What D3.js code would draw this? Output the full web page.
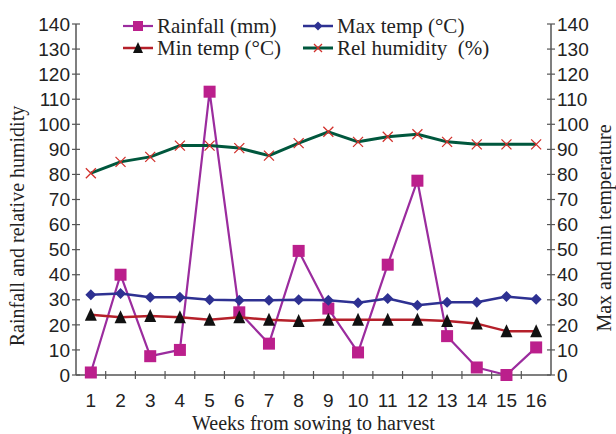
<!DOCTYPE html>
<html>
<head>
<meta charset="utf-8">
<script src="https://cdn.jsdelivr.net/npm/d3@7"></script>
<style>
  body { margin: 0; background: #fff; }
  svg { display: block; }
</style>
</head>
<body>
<svg id="drawing_region"></svg>
<script>
// data
const weeks = [1, 2, 3, 4, 5, 6, 7, 8, 9, 10, 11, 12, 13, 14, 15, 16];
const rainfall = [1, 40, 7.5, 10, 113, 25, 12.5, 49.5, 26.5, 9, 44, 77.5, 15.5, 3, 0, 11];
const maxTemp = [32, 32.5, 31, 31, 30, 29.8, 29.8, 30, 29.8, 28.8, 30.5, 27.8, 29, 29, 31.3, 30.2];
const minTemp = [24, 23, 23.5, 23, 22, 23, 22, 21.5, 22, 22, 22, 22, 21.5, 20.5, 17.5, 17.5];
const relHumidity = [80.5, 85, 87, 91.5, 91.5, 90.5, 87.5, 92.5, 97, 93, 95, 96, 93, 92, 92, 92];
const yTicks = [0, 10, 20, 30, 40, 50, 60, 70, 80, 90, 100, 110, 120, 130, 140];

const config = {
    width: 616,
    height: 434,
    margin: {top: 24, right: 65, bottom: 59, left: 76}
};

const svg = d3.select('#drawing_region')
    .attr('width', config.width)
    .attr('height', config.height);

const inner_width = config.width - config.margin.left - config.margin.right;
const inner_height = config.height - config.margin.top - config.margin.bottom;

const chart = svg.append('g')
    .attr('transform', `translate(${config.margin.left}, ${config.margin.top})`);

const xscale = d3.scaleBand()
    .domain(weeks)
    .range([0, inner_width]);

const yscale = d3.scaleLinear()
    .domain([0, 140])
    .range([inner_height, 0]);

// right axis uses the same 0-140 range
const yscale2 = d3.scaleLinear()
    .domain([0, 140])
    .range([inner_height, 0]);

const cx = d => xscale(d) + xscale.bandwidth() / 2;
const axisColor = '#555';
const SERIF = '"Liberation Serif"';
const SANS = '"Liberation Sans"';

// axes
const xaxis_group = chart.append('g')
    .attr('transform', `translate(0, ${inner_height})`);
xaxis_group.append('line')
    .attr('x1', 0).attr('x2', inner_width)
    .attr('stroke', axisColor).attr('stroke-width', 1.5);
xaxis_group.selectAll('.xt')
    .data(d3.range(1, weeks.length))
    .enter().append('line')
    .attr('x1', i => i * xscale.step())
    .attr('x2', i => i * xscale.step())
    .attr('y1', -4).attr('y2', 4)
    .attr('stroke', axisColor).attr('stroke-width', 1.2);
xaxis_group.selectAll('text')
    .data(weeks)
    .enter().append('text')
    .style('font-family', SANS)
    .style('font-size', '19px')
    .attr('x', d => cx(d))
    .attr('y', 32)
    .attr('text-anchor', 'middle')
    .attr('fill', '#222')
    .text(d => d);

function drawYAxis(scale, x, anchor, dx) {
    const g = chart.append('g').attr('transform', `translate(${x}, 0)`);
    g.append('line')
        .attr('y1', 0).attr('y2', inner_height)
        .attr('stroke', axisColor).attr('stroke-width', 1.5);
    g.selectAll('line.tk')
        .data(yTicks)
        .enter().append('line')
        .attr('class', 'tk')
        .attr('x1', -4).attr('x2', 4)
        .attr('y1', d => scale(d)).attr('y2', d => scale(d))
        .attr('stroke', axisColor).attr('stroke-width', 1.2);
    g.selectAll('text')
        .data(yTicks)
        .enter().append('text')
        .style('font-family', SANS)
        .style('font-size', '19px')
        .attr('x', dx)
        .attr('y', d => scale(d))
        .attr('dy', '0.35em')
        .attr('text-anchor', anchor)
        .attr('fill', '#222')
        .text(d => d);
}
drawYAxis(yscale, 0, 'end', -6);
drawYAxis(yscale2, inner_width, 'start', 6);

// axis titles
svg.append('text')
    .style('font-family', SERIF)
    .style('font-size', '20px')
    .attr('x', config.margin.left + inner_width / 2)
    .attr('y', 430)
    .attr('text-anchor', 'middle')
    .attr('fill', '#222')
    .text('Weeks from sowing to harvest');

svg.append('text')
    .style('font-family', SERIF)
    .style('font-size', '20px')
    .attr('transform', 'translate(24, 226) rotate(-90)')
    .attr('text-anchor', 'middle')
    .attr('fill', '#222')
    .text('Rainfall and relative humidity');

svg.append('text')
    .style('font-family', SERIF)
    .style('font-size', '20px')
    .attr('transform', 'translate(611, 228) rotate(-90)')
    .attr('text-anchor', 'middle')
    .attr('fill', '#222')
    .text('Max and min temperature');

// series
const series = [
    {name: 'Rainfall (mm)', values: rainfall, scale: yscale, line: '#9b2c9e', width: 2.2,
     marker: 'square', mfill: '#bb1f8c', size: 12},
    {name: 'Max temp (\u00B0C)', values: maxTemp, scale: yscale2, line: '#2e3192', width: 2.5,
     marker: 'diamond', mfill: '#2e3192', size: 11},
    {name: 'Min temp (\u00B0C)', values: minTemp, scale: yscale2, line: '#b5202a', width: 2.5,
     marker: 'triangle', mfill: '#111', size: 12},
    {name: 'Rel humidity\u00A0 (%)', values: relHumidity, scale: yscale, line: '#00573d', width: 3,
     marker: 'cross', mfill: '#d2312c', size: 10}
];

function marker(g, type, fill, s) {
    const h = s / 2;
    if (type === 'square') {
        g.append('rect').attr('x', -h).attr('y', -h).attr('width', s).attr('height', s).attr('fill', fill);
    } else if (type === 'diamond') {
        g.append('path').attr('d', `M0,${-h}L${h},0L0,${h}L${-h},0Z`).attr('fill', fill);
    } else if (type === 'triangle') {
        g.append('path').attr('d', `M0,${-h - 1}L${h},${h}L${-h},${h}Z`).attr('fill', fill);
    } else {
        g.append('path').attr('d', `M${-h},${-h}L${h},${h}M${-h},${h}L${h},${-h}`)
            .attr('stroke', fill).attr('stroke-width', 1.3).attr('fill', 'none');
    }
}

series.forEach(s => {
    const line = d3.line()
        .x((d, i) => cx(weeks[i]))
        .y(d => s.scale(d));
    chart.append('path')
        .datum(s.values)
        .attr('fill', 'none')
        .attr('stroke', s.line)
        .attr('stroke-width', s.width)
        .attr('stroke-linejoin', 'round')
        .attr('d', line);
    s.values.forEach((v, i) => {
        const g = chart.append('g')
            .attr('transform', `translate(${cx(weeks[i])}, ${s.scale(v)})`);
        marker(g, s.marker, s.mfill, s.size);
    });
});

// legend
const legendPos = [[123, 26], [303, 26], [123, 48], [303, 48]];
series.forEach((s, j) => {
    const [lx, ly] = legendPos[j];
    const g = svg.append('g').attr('transform', `translate(${lx}, ${ly})`);
    g.append('line')
        .attr('x1', 0).attr('x2', 30)
        .attr('stroke', s.line).attr('stroke-width', s.width);
    marker(g.append('g').attr('transform', 'translate(15, 0)'), s.marker, s.mfill, s.size - 2);
    g.append('text')
        .style('font-family', SERIF)
        .style('font-size', '21px')
        .attr('x', 34)
        .attr('y', 0)
        .attr('dy', '0.35em')
        .attr('fill', '#222')
        .text(s.name);
});
</script>
</body>
</html>
